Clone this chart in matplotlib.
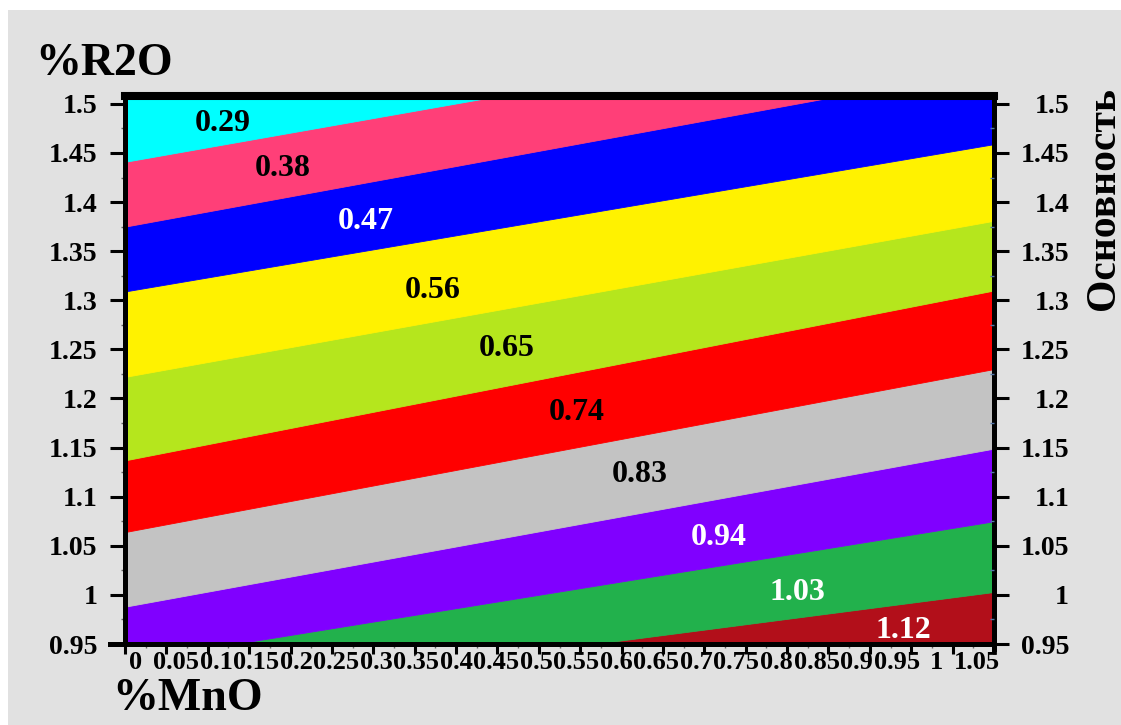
import matplotlib
matplotlib.use("Agg")
import matplotlib.pyplot as plt
from matplotlib.patches import Rectangle
from matplotlib.transforms import ScaledTranslation

plt.rcParams['font.family'] = ['Liberation Serif', 'DejaVu Serif']
plt.rcParams['font.weight'] = 'bold'

# band borders (%R2O) at %MnO = 0 and %MnO = 1.05, bottom to top
x_ends = [0.0, 1.05]
bound_left = [0.888, 0.932, 0.988, 1.064, 1.137, 1.222, 1.309, 1.375, 1.441]
bound_right = [1.003, 1.075, 1.149, 1.230, 1.310, 1.381, 1.459, 1.537, 1.597]

# bands, bottom to top
band_values = ['1.12', '1.03', '0.94', '0.83', '0.74', '0.65', '0.56', '0.47', '0.38', '0.29']
band_colors = ['#B20F1A', '#22B14C', '#8000FF', '#C3C3C3', '#FF0000',
               '#B5E61D', '#FFF200', '#0000FF', '#FF3F78', '#00FFFF']
label_x = [0.940, 0.812, 0.718, 0.622, 0.546, 0.461, 0.372, 0.291, 0.191, 0.118]
label_y = [0.956, 0.995, 1.051, 1.115, 1.178, 1.243, 1.302, 1.373, 1.427, 1.472]
label_colors = ['white', 'white', 'white', 'black', 'black',
                'black', 'black', 'white', 'black', 'black']

x_ticks = [i * 0.05 for i in range(22)]
x_tick_labels = ['0', '0.05', '0.1', '0.15', '0.2', '0.25', '0.3', '0.35', '0.4', '0.45', '0.5',
                 '0.55', '0.6', '0.65', '0.7', '0.75', '0.8', '0.85', '0.9', '0.95', '1', '1.05']
y_ticks = [0.95 + i * 0.05 for i in range(12)]
y_tick_labels = ['0.95', '1', '1.05', '1.1', '1.15', '1.2', '1.25', '1.3', '1.35', '1.4', '1.45', '1.5']

fig = plt.figure(figsize=(11.21, 7.25), dpi=100)
fig.patch.set_facecolor('white')
fig.add_artist(Rectangle((8 / 1121, 0), 1, 1 - 10 / 725, transform=fig.transFigure,
                         facecolor='#E1E1E1', edgecolor='none', zorder=-5))

ax = fig.add_axes([125 / 1121, 81 / 725, 869 / 1121, 548 / 725])
ax.set_facecolor('none')

lower = [(0.5, 0.5)] + list(zip(bound_left, bound_right))
upper = list(zip(bound_left, bound_right)) + [(2.0, 2.0)]
for lo, hi, c in zip(lower, upper, band_colors):
    ax.fill_between(x_ends, lo, hi, facecolor=c, edgecolor=c, linewidth=0.6)

for x, y, t, c in zip(label_x, label_y, band_values, label_colors):
    ax.text(x, y, t, color=c, fontsize=23, ha='center', va='baseline')

ax.set_xlim(0, 1.05)
ax.set_ylim(0.95, 1.508)
ax.set_xticks(x_ticks)
ax.set_xticklabels(x_tick_labels)
ax.set_yticks(y_ticks)
ax.set_yticklabels(y_tick_labels)
ax.set_yticks([0.975 + i * 0.05 for i in range(11)], minor=True)
ax.set_xticks([0.025 + i * 0.05 for i in range(21)], minor=True)

ax.tick_params(axis='y', which='major', direction='out', length=11, width=2.2,
               labelsize=20, pad=9)
ax.tick_params(axis='x', which='major', direction='out', length=7, width=2.2,
               labelsize=19, pad=-2)
ax.tick_params(which='minor', direction='out', length=3, width=1, color='#666666')

# x labels in the original drift a little against their ticks
for xv, lab in zip(x_ticks, ax.get_xticklabels()):
    dx = (11 - 27 * xv) / 100
    lab.set_transform(lab.get_transform() + ScaledTranslation(dx, 0, fig.dpi_scale_trans))

for side in ['left', 'right', 'bottom']:
    ax.spines[side].set_linewidth(3.6)
ax.spines['top'].set_linewidth(5.8)
ax.spines['bottom'].set_bounds(-0.018, 1.05)
ax.spines['right'].set_bounds(0.945, 1.508)

ax2 = ax.twinx()
ax2.set_ylim(0.95, 1.508)
ax2.set_yticks(y_ticks)
ax2.set_yticklabels(y_tick_labels)
ax2.set_yticks([0.975 + i * 0.05 for i in range(11)], minor=True)
ax2.tick_params(axis='y', which='major', direction='out', length=11, width=2.2,
                labelsize=20, pad=43)
ax2.tick_params(axis='y', which='minor', direction='in', length=3, width=1, color='#5577aa')
for lab in ax2.get_yticklabels():
    lab.set_horizontalalignment('right')
for s in ax2.spines.values():
    s.set_visible(False)

fig.text(35 / 1121, 1 - 75 / 725, '%R2O', fontsize=33, ha='left', va='baseline')
fig.text(112 / 1121, 1 - 710 / 725, '%MnO', fontsize=33, ha='left', va='baseline')
fig.text(1104 / 1121, 1 - 198 / 725, 'Основность', fontsize=30, rotation=90,
         ha='center', va='center')

fig.savefig('out.png', dpi=100)
